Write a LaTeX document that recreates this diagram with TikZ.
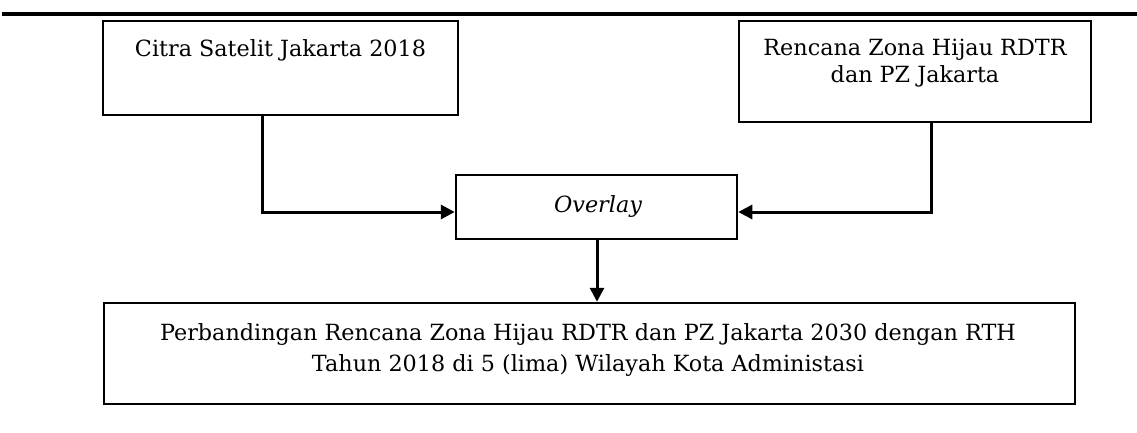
\documentclass[tikz,border=0pt]{standalone}
\usepackage{fontspec}
\setmainfont{DejaVu Serif}
\usetikzlibrary{arrows.meta}
\begin{document}
\begin{tikzpicture}[x=1pt,y=-1pt,
  box/.style={draw=black,line width=2.5pt,rectangle,inner sep=0pt},
  lbl/.style={anchor=base,inner sep=0pt,font=\fontsize{22.3}{30}\selectfont,align=center},
  conn/.style={line width=3pt,-{Triangle[length=14pt,width=14pt]}}]
\useasboundingbox (0,0) rectangle (1137,433);
\draw[line width=4.5pt] (2,14) -- (1137,14);
% boxes
\node[box,minimum width=355pt,minimum height=94pt] (b1) at (280.5,68) {};
\node[box,minimum width=352pt,minimum height=101pt] (b2) at (915,71.5) {};
\node[box,minimum width=281pt,minimum height=64pt] (ov) at (596.5,207) {};
\node[box,minimum width=971pt,minimum height=101pt] (res) at (589.5,353.5) {};
% labels
\node[lbl] (t1) at (280.5,57) {Citra Satelit Jakarta 2018};
\node[lbl] (t2a) at (915,56) {Rencana Zona Hijau RDTR};
\node[lbl] (t2b) at (915,83) {dan PZ Jakarta};
\node[lbl,font=\fontsize{22.3}{30}\selectfont\itshape] (tov) at (598,212) {Overlay};
\node[lbl] (tr1) at (588,340) {Perbandingan Rencana Zona Hijau RDTR dan PZ Jakarta 2030 dengan RTH};
\node[lbl] (tr2) at (588,371) {Tahun 2018 di 5 (lima) Wilayah Kota Administasi};
% connectors
\draw[conn] ([xshift=-18.5pt]b1.south) |- ([yshift=-5pt]ov.west);
\draw[conn] ([xshift=16pt]b2.south) |- ([yshift=-5pt]ov.east);
\draw[conn] ([xshift=0.5pt]ov.south) -- ([xshift=0.5pt]ov.south |- res.north);
\end{tikzpicture}
\end{document}
